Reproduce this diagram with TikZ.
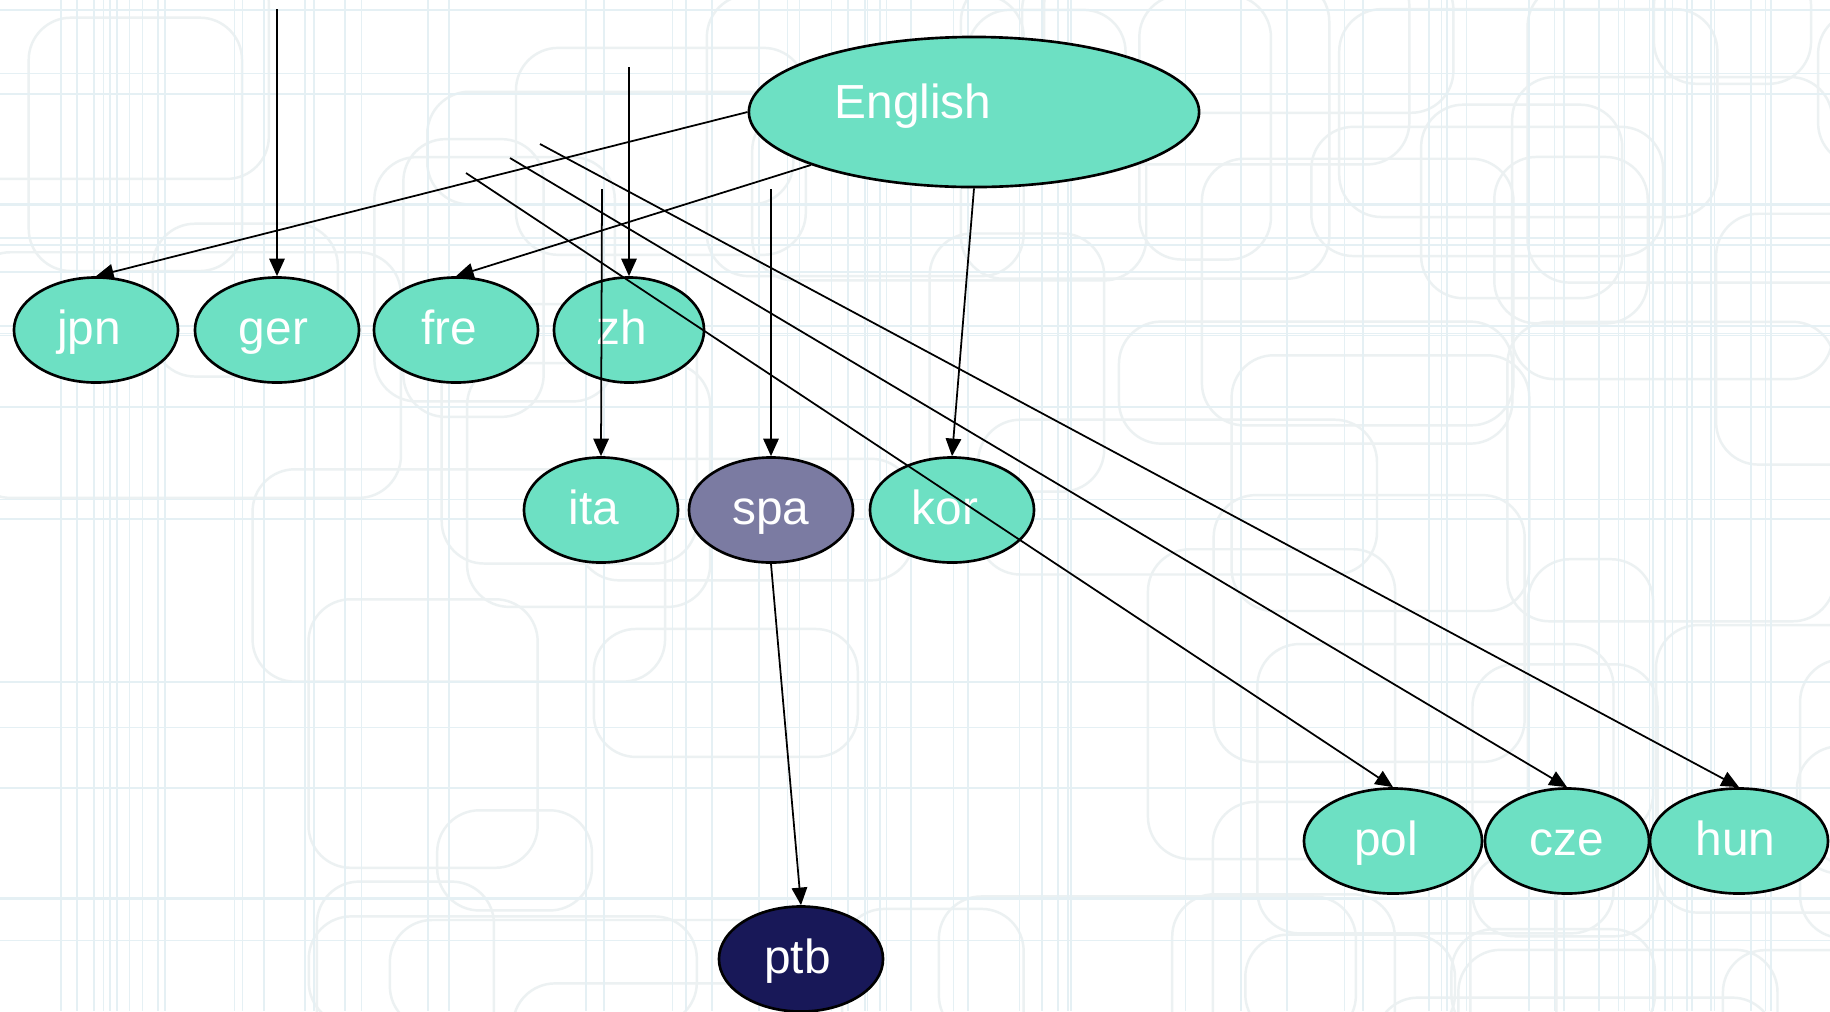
\documentclass[tikz,border=0pt]{standalone}
\usepackage{fontspec}
\setmainfont{Liberation Sans}
\usetikzlibrary{shapes.geometric, arrows.meta}
\definecolor{langteal}{RGB}{109,224,195}
\definecolor{spagrey}{RGB}{123,123,162}
\definecolor{ptbnavy}{RGB}{24,24,88}
\definecolor{bgblue}{RGB}{229,240,244}
\definecolor{bggrey}{RGB}{236,241,242}
\tikzset{text nudge/.store in=\textnudge, text nudge=4pt,
  lang/.style={ellipse, draw=black, line width=0.75pt, fill=langteal,
    text=white, font=\fontsize{13.6}{16}\selectfont, inner sep=0pt,
    minimum width=1.64cm, minimum height=1.05cm,
    text height=0.82em, text depth=0pt,
    execute at end node=\kern\textnudge},
  link/.style={-{Triangle[length=5pt,width=4.4pt]}, line width=0.5pt},
  bgline/.style={draw=bgblue, line width=0.45pt},
  bgbox/.style={draw=bggrey, line width=0.7pt, rounded corners=12pt}}

\begin{document}
\begin{tikzpicture}[x=0.01cm, y=-0.01cm]
    \useasboundingbox (0,0) rectangle (1830,1011);
    %Backdrop: faint rounded boxes and grid lines
    \fill[white] (0,0) rectangle (1830,1011);
    \begin{scope}
        \clip (0,0) rectangle (1830,1011);
        \pgfmathsetseed{17}
        \foreach \i in {1,...,60}{
            \pgfmathsetmacro{\bx}{rnd*1900-80}
            \pgfmathsetmacro{\by}{rnd*1080-60}
            \pgfmathsetmacro{\bw}{120+rnd*320}
            \pgfmathsetmacro{\bh}{90+rnd*220}
            \draw[bgbox] (\bx,\by) rectangle ++(\bw,\bh);
        }
        \foreach \i in {1,...,70}{
            \pgfmathsetmacro{\vx}{rnd*1830}
            \draw[bgline] (\vx,0) -- (\vx,1011);
        }
        \foreach \i in {1,...,20}{
            \pgfmathsetmacro{\hy}{rnd*1011}
            \draw[bgline] (0,\hy) -- (1830,\hy);
        }
    \end{scope}
    %Source node
    \node[lang, minimum width=4.5cm, minimum height=1.5cm] (eng) at (974,112) {};
    \node[text=white, font=\fontsize{13.6}{16}\selectfont, inner sep=0pt,
        text height=0.82em, text depth=0pt] (engtext) at (913,104) {English};
    %First row
    \node[lang] (jpn) at (96,330) {jpn};
    \node[lang, text nudge=2pt] (ger) at (277,330) {ger};
    \node[lang] (fre) at (456,330) {fre};
    \node[lang, minimum width=1.5cm] (zh) at (629,330) {zh};
    %Second row
    \node[lang, minimum width=1.54cm] (ita) at (601,510) {ita};
    \node[lang, text nudge=0pt, fill=spagrey] (spa) at (771,510) {spa};
    \node[lang] (kor) at (952,510) {kor};
    %Third row
    \node[lang, minimum width=1.78cm] (pol) at (1393,841) {pol};
    \node[lang, text nudge=0pt] (cze) at (1567,841) {cze};
    \node[lang, minimum width=1.78cm, text nudge=2pt] (hun) at (1739,841) {hun};
    \node[lang, text nudge=2pt, fill=ptbnavy] (ptb) at (801,959) {ptb};
    %Loose ends of the incoming lines
    \coordinate (gertop) at (277,9);
    \coordinate (zhtop) at (629,67);
    \coordinate (itatop) at (602,189);
    \coordinate (spatop) at (771,189);
    \coordinate (poltop) at (466,173);
    \coordinate (czetop) at (510,158);
    \coordinate (huntop) at (540,144);
    %Edges
    \draw[link] (eng.west) -- (jpn.north);
    \draw[link] (eng.198) -- (fre.north);
    \draw[link] (eng.south) -- (kor.north);
    \draw[link] (gertop) -- (ger.north);
    \draw[link] (zhtop) -- (zh.north);
    \draw[link] (itatop) -- (ita.north);
    \draw[link] (spatop) -- (spa.north);
    \draw[link] (poltop) -- (pol.north);
    \draw[link] (czetop) -- (cze.north);
    \draw[link] (huntop) -- (hun.north);
    \draw[link] (spa.south) -- (ptb.north);
\end{tikzpicture}
\end{document}
